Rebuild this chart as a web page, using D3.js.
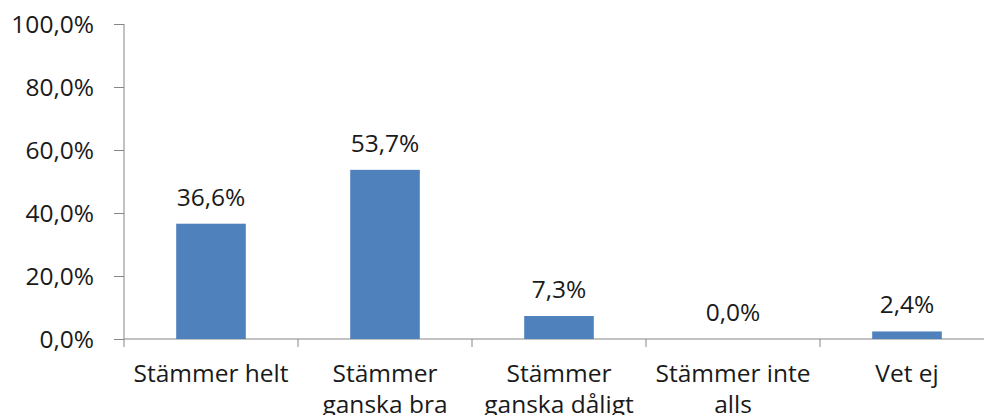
<!DOCTYPE html>
<html>
<head>
<meta charset="utf-8">
<script src="https://cdn.jsdelivr.net/npm/d3@7"></script>
<style>
  html, body { margin: 0; padding: 0; background: #fff; }
  svg { display: block; }
  text { font-family: "Open Sans", sans-serif; fill: #1a1a1a; }
</style>
</head>
<body>
<svg id="chart" width="984" height="415"></svg>
<script>
const categories = ["Stämmer helt", "Stämmer ganska bra", "Stämmer ganska dåligt", "Stämmer inte alls", "Vet ej"];
const values = [0.366, 0.537, 0.073, 0.0, 0.024];
const yTicks = [0, 0.2, 0.4, 0.6, 0.8, 1.0];

const svg = d3.select("#chart");
const fontSize = 24.5;
const axisColor = "#868686";
const barColor = "#4F81BD";

const x = d3.scaleBand().domain(categories).range([124, 994]).paddingInner(0.6).paddingOuter(0.3);
const y = d3.scaleLinear().domain([0, 1]).range([339, 24]);

const fmt = v => (v * 100).toFixed(1).replace(".", ",") + "%";

// Y axis
const yAxis = d3.axisLeft(y).tickValues(yTicks).tickSize(10).tickPadding(20).tickFormat(fmt);
const yg = svg.append("g").attr("transform", "translate(124,0)").call(yAxis);
yg.select(".domain").attr("stroke", axisColor).attr("d", `M0,${y(1)}V${y(0)}`);
yg.selectAll(".tick line").attr("stroke", axisColor);
yg.selectAll(".tick text").attr("font-size", fontSize).attr("font-family", "Open Sans").attr("fill", "#1a1a1a").attr("dy", "0.35em");

// X axis baseline
svg.append("line").attr("x1", 124).attr("x2", 994).attr("y1", y(0)).attr("y2", y(0)).attr("stroke", axisColor);
// category boundary ticks
const half = (x.step() - x.bandwidth()) / 2;
const bounds = categories.map(c => x(c) - half).concat([x(categories[categories.length - 1]) + x.bandwidth() + half]);
svg.selectAll(".ctick").data(bounds).join("line")
  .attr("x1", d => d).attr("x2", d => d).attr("y1", y(0)).attr("y2", y(0) + 8).attr("stroke", axisColor);

// Bars
svg.selectAll(".bar").data(values).join("rect")
  .attr("x", (d, i) => x(categories[i]))
  .attr("width", x.bandwidth())
  .attr("y", d => y(d))
  .attr("height", d => y(0) - y(d))
  .attr("fill", barColor);

// Data labels
svg.selectAll(".dl").data(values).join("text")
  .attr("x", (d, i) => x(categories[i]) + x.bandwidth() / 2)
  .attr("y", d => y(d) - 18)
  .attr("text-anchor", "middle")
  .attr("font-size", fontSize)
  .text(d => fmt(d));

// Category labels with wrap
const maxW = 172;
const measurer = svg.append("text").attr("font-size", fontSize).attr("visibility", "hidden");
function wrap(str) {
  const words = str.split(" ");
  const lines = [];
  let cur = "";
  words.forEach(w => {
    const test = cur ? cur + " " + w : w;
    measurer.text(test);
    if (measurer.node().getComputedTextLength() > maxW && cur) {
      lines.push(cur);
      cur = w;
    } else cur = test;
  });
  if (cur) lines.push(cur);
  return lines;
}
categories.forEach(c => {
  const lines = wrap(c);
  const t = svg.append("text").attr("text-anchor", "middle").attr("font-size", fontSize);
  lines.forEach((l, i) => {
    t.append("tspan").attr("x", x(c) + x.bandwidth() / 2).attr("y", y(0) + 43 + i * 31).text(l);
  });
});
measurer.remove();
</script>
</body>
</html>
